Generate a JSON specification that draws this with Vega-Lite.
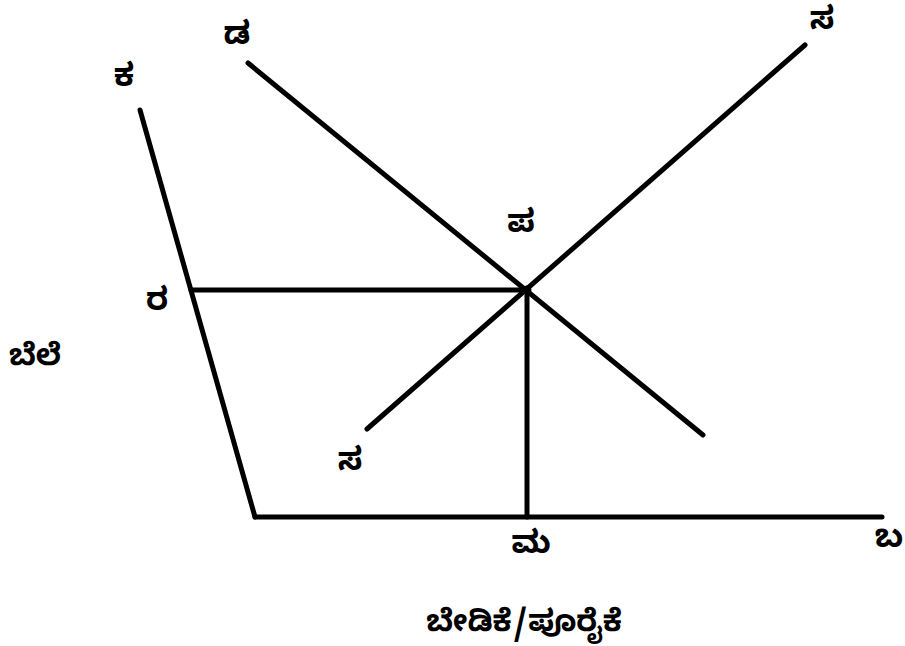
{
  "$schema": "https://vega.github.io/schema/vega-lite/v6.json",
  "width": 905,
  "height": 646,
  "autosize": {"type": "fit", "contains": "padding"},
  "padding": 0,
  "background": "white",
  "config": {"view": {"stroke": null}},
  "datasets": {
    "segments": [
      {"name": "ಕ-ಅಕ್ಷ", "q": 140, "p": 536, "q2": 255, "p2": 129, "kind": "axis"},
      {"name": "ಬ-ಅಕ್ಷ", "q": 255, "p": 129, "q2": 882, "p2": 129, "kind": "axis"},
      {"name": "ಬೇಡಿಕೆ", "q": 248, "p": 583, "q2": 703, "p2": 211, "kind": "curve"},
      {"name": "ಪೂರೈಕೆ", "q": 367, "p": 217, "q2": 805, "p2": 601, "kind": "curve"},
      {"name": "ಬೆಲೆ ರೇಖೆ", "q": 191, "p": 356, "q2": 527, "p2": 356, "kind": "guide"},
      {"name": "ಪ್ರಮಾಣ ರೇಖೆ", "q": 527, "p": 356, "q2": 527, "p2": 129, "kind": "guide"}
    ],
    "equilibrium": [
      {"q": 527, "p": 356}
    ],
    "letters": [
      {"label": "ಕ", "q": 124, "p": 570},
      {"label": "ಡ", "q": 237, "p": 612},
      {"label": "ಸ", "q": 822, "p": 627},
      {"label": "ಸ", "q": 350, "p": 186},
      {"label": "ರ", "q": 157, "p": 346},
      {"label": "ಪ", "q": 521, "p": 424},
      {"label": "ಮ", "q": 531, "p": 103},
      {"label": "ಬ", "q": 889, "p": 109}
    ],
    "titles": [
      {"label": "ಬೆಲೆ", "q": 35, "p": 290},
      {"label": "ಬೇಡಿಕೆ/ಪೂರೈಕೆ", "q": 524, "p": 24}
    ]
  },
  "layer": [
    {
      "data": {"name": "segments"},
      "mark": {"type": "rule", "color": "black", "strokeWidth": 5, "strokeCap": "round"},
      "encoding": {
        "x": {"field": "q", "type": "quantitative", "scale": {"domain": [0, 905], "nice": false, "zero": false}, "axis": null},
        "y": {"field": "p", "type": "quantitative", "scale": {"domain": [0, 646], "nice": false, "zero": false}, "axis": null},
        "x2": {"field": "q2"},
        "y2": {"field": "p2"}
      }
    },
    {
      "data": {"name": "equilibrium"},
      "mark": {"type": "circle", "color": "black", "size": 80, "opacity": 1},
      "encoding": {
        "x": {"field": "q", "type": "quantitative"},
        "y": {"field": "p", "type": "quantitative"}
      }
    },
    {
      "data": {"name": "letters"},
      "mark": {"type": "text", "font": "Noto Sans Kannada, Noto Sans, sans-serif", "fontWeight": "bold", "fontSize": 32, "align": "center", "baseline": "middle", "color": "black"},
      "encoding": {
        "x": {"field": "q", "type": "quantitative"},
        "y": {"field": "p", "type": "quantitative"},
        "text": {"field": "label"}
      }
    },
    {
      "data": {"name": "titles"},
      "mark": {"type": "text", "font": "Noto Sans Kannada, Noto Sans, sans-serif", "fontWeight": "bold", "fontSize": 30, "align": "center", "baseline": "middle", "color": "black"},
      "encoding": {
        "x": {"field": "q", "type": "quantitative"},
        "y": {"field": "p", "type": "quantitative"},
        "text": {"field": "label"}
      }
    }
  ]
}
